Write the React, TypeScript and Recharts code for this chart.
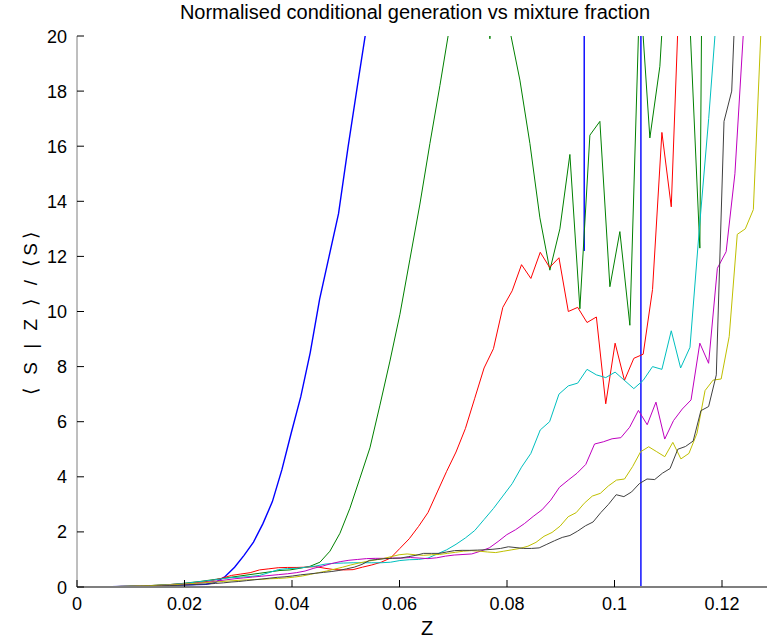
import React from 'react';
import { LineChart, Line, XAxis, YAxis, Label } from 'recharts';

const FONT = '"Liberation Sans", Arial, Helvetica, sans-serif';
const CHART_W = 767;
const CHART_H = 643;
const MARGIN = { top: 36, right: 0, bottom: 26, left: 17 };
const Y_AXIS_W = 60;
const X_AXIS_H = 30;
const TICK_LEN = 7;

const title = 'Normalised conditional generation vs mixture fraction';
const xLabel = 'Z';
const yLabel = '\u27E8 S | Z \u27E9 / \u27E8S\u27E9';

const xTicks = [0, 0.02, 0.04, 0.06, 0.08, 0.1, 0.12];
const xTickLabels = ['0', '0.02', '0.04', '0.06', '0.08', '0.1', '0.12'];
const yTicks = [0, 2, 4, 6, 8, 10, 12, 14, 16, 18, 20];
const yTickLabels = ['0', '2', '4', '6', '8', '10', '12', '14', '16', '18', '20'];
const xDomain = [0, 0.12837];
const yDomain = [0, 20];

// Each series was binned on its own uniform mixture-fraction grid: [first bin Z, bin width]
const blueGrid = [0.00119, 0.001758];
const greenGrid = [0.000558, 0.00186];
const redGrid = [0.000874, 0.001741];
const cyanGrid = [0.000874, 0.001741];
const magentaGrid = [0, 0.001632];
const yellowGrid = [0, 0.001498];
const blackGrid = [0, 0.001433];

const blueS = [
  0, 0, 0.01, 0.01, 0.02, 0.02, 0.03, 0.04, 0.05, 0.06,
  0.07, 0.08, 0.09, 0.1, 0.17, 0.38, 0.72, 1.15, 1.63, 2.3,
  3.1, 4.25, 5.6, 6.9, 8.5, 10.45, 12.0, 13.55, 15.95, 18.2,
  20.4, 24, 30, 40, 60, 90, 150, 250, 400, 700,
  1e5, 1e5, 1e5, 1e5, 1e5, 1e5, 1e5, 1e5, 1e5, 1e5,
  1e5, 1e5, 1e5, 12.2, 1e5, 1e5, 1e5, 1e5, 1e5, 0,
  1e5, 1e5, 1e5, 1e5, 1e5, 1e5, 1e5, 1e5, 1e5, 1e5,
  1e5, 1e5, 1e5, 1e5,
];

const greenS = [
  0, 0, 0.01, 0.01, 0.02, 0.03, 0.04, 0.05, 0.07, 0.09,
  0.12, 0.16, 0.2, 0.25, 0.3, 0.35, 0.4, 0.45, 0.5, 0.55,
  0.6, 0.62, 0.68, 0.75, 0.9, 1.3, 1.95, 2.86, 3.95, 5.05,
  6.6, 8.2, 9.9, 11.9, 13.9, 16.1, 18.2, 20.4, 23, 26,
  28, 19.9, 30, 20.2, 18.4, 16.1, 13.4, 11.5, 13.0, 15.7,
  10.1, 16.4, 16.9, 10.9, 12.9, 9.5, 21.8, 16.3, 18.9, 25,
  40, 20.5, 12.3, 60, 80, 100, 120, 150, 200, 250,
];

const redS = [
  0, 0, 0.01, 0.01, 0.02, 0.03, 0.04, 0.05, 0.06, 0.08,
  0.1, 0.12, 0.15, 0.18, 0.24, 0.32, 0.42, 0.47, 0.52, 0.62,
  0.66, 0.7, 0.71, 0.71, 0.72, 0.74, 0.68, 0.63, 0.62, 0.63,
  0.72, 0.8, 0.9, 1.05, 1.4, 1.75, 2.2, 2.7, 3.45, 4.2,
  4.9, 5.75, 6.85, 7.95, 8.65, 10.15, 10.75, 11.7, 11.2, 12.15,
  11.6, 11.95, 10.0, 10.15, 9.6, 9.8, 6.65, 8.85, 7.5, 8.3,
  8.45, 10.8, 16.5, 13.8, 23, 60, 100, 150, 200, 300,
  400, 500, 600, 700,
];

const cyanS = [
  0, 0, 0.01, 0.01, 0.02, 0.03, 0.04, 0.05, 0.06, 0.08,
  0.1, 0.13, 0.17, 0.21, 0.25, 0.3, 0.34, 0.36, 0.38, 0.42,
  0.52, 0.63, 0.67, 0.68, 0.72, 0.76, 0.83, 0.86, 0.87, 0.88,
  0.88, 0.88, 0.88, 0.9, 0.96, 0.99, 1.0, 1.05, 1.2, 1.35,
  1.55, 1.78, 2.05, 2.45, 2.85, 3.3, 3.75, 4.35, 4.85, 5.7,
  6.0, 7.0, 7.3, 7.4, 7.9, 7.7, 7.6, 7.8, 7.5, 7.2,
  7.5, 8.0, 7.9, 9.3, 7.95, 8.7, 13.0, 17.0, 21.5, 30,
  40, 50, 60, 70,
];

const magentaS = [
  0, 0, 0, 0.01, 0.01, 0.02, 0.02, 0.03, 0.04, 0.05,
  0.06, 0.08, 0.1, 0.12, 0.15, 0.18, 0.22, 0.26, 0.3, 0.33,
  0.36, 0.39, 0.42, 0.45, 0.48, 0.52, 0.58, 0.68, 0.76, 0.85,
  0.92, 0.97, 1.0, 1.03, 1.04, 1.04, 1.05, 1.05, 1.07, 1.05,
  1.03, 1.06, 1.12, 1.16, 1.18, 1.2, 1.3, 1.42, 1.65, 1.9,
  2.08, 2.3, 2.56, 2.8, 3.15, 3.62, 3.88, 4.13, 4.45, 5.19,
  5.27, 5.38, 5.42, 5.8, 6.41, 5.89, 6.71, 5.37, 6.04, 6.46,
  6.79, 8.85, 8.12, 11.57, 12.17, 15.0, 20.3, 30, 40, 50,
];

const yellowS = [
  0, 0, 0, 0.01, 0.01, 0.02, 0.02, 0.03, 0.04, 0.05,
  0.06, 0.07, 0.08, 0.1, 0.12, 0.14, 0.16, 0.18, 0.2, 0.22,
  0.24, 0.26, 0.27, 0.28, 0.3, 0.31, 0.33, 0.36, 0.4, 0.46,
  0.52, 0.58, 0.65, 0.72, 0.8, 0.87, 0.93, 0.98, 1.03, 1.1,
  1.17, 1.2, 1.17, 1.15, 1.17, 1.18, 1.22, 1.26, 1.3, 1.32,
  1.3, 1.27, 1.25, 1.3, 1.35, 1.4, 1.48, 1.62, 1.84, 1.98,
  2.21, 2.55, 2.7, 3.04, 3.3, 3.4, 3.67, 3.88, 3.92, 4.37,
  4.91, 5.09, 4.91, 4.73, 5.25, 4.65, 4.85, 5.58, 7.13, 7.51,
  7.55, 9.09, 12.8, 13.0, 13.7, 20.6, 30,
];

const blackS = [
  0, 0, 0, 0, 0.01, 0.01, 0.01, 0.02, 0.02, 0.03,
  0.03, 0.04, 0.05, 0.06, 0.07, 0.08, 0.1, 0.11, 0.13, 0.15,
  0.18, 0.2, 0.23, 0.26, 0.29, 0.32, 0.35, 0.37, 0.4, 0.44,
  0.47, 0.5, 0.53, 0.56, 0.6, 0.66, 0.72, 0.82, 0.97, 1.0,
  1.03, 1.04, 1.05, 1.1, 1.15, 1.22, 1.22, 1.22, 1.27, 1.32,
  1.33, 1.33, 1.34, 1.35, 1.37, 1.4, 1.46, 1.43, 1.4, 1.4,
  1.42, 1.55, 1.68, 1.8, 1.87, 2.03, 2.22, 2.36, 2.7, 3.0,
  3.35, 3.28, 3.45, 3.75, 3.92, 3.9, 4.13, 4.3, 5.0, 5.1,
  5.3, 6.4, 6.55, 7.7, 16.9, 18.0, 25, 40, 60, 80,
  100,
];

const seriesList = [
  { name: 'blue', grid: blueGrid, values: blueS, color: '#0000ff', width: 1.4 },
  { name: 'green', grid: greenGrid, values: greenS, color: '#008000', width: 1 },
  { name: 'red', grid: redGrid, values: redS, color: '#ff0000', width: 1 },
  { name: 'cyan', grid: cyanGrid, values: cyanS, color: '#00bfbf', width: 1 },
  { name: 'magenta', grid: magentaGrid, values: magentaS, color: '#bf00bf', width: 1 },
  { name: 'yellow', grid: yellowGrid, values: yellowS, color: '#bfbf00', width: 1 },
  { name: 'black', grid: blackGrid, values: blackS, color: '#404040', width: 1 },
];

const toRows = (grid: number[], values: number[]) =>
  values.map((s, k) => ({ z: grid[0] + k * grid[1], s }));

const XTick = (props: any) => {
  const { x, y, index } = props;
  return (
    <g>
      <line x1={x} x2={x} y1={y} y2={y - TICK_LEN} stroke="#000" strokeWidth={1} />
      <text x={x} y={y + 23} textAnchor="middle" fontFamily={FONT} fontSize={18} fill="#000">
        {xTickLabels[index]}
      </text>
    </g>
  );
};

const YTick = (props: any) => {
  const { x, y, index } = props;
  return (
    <g>
      <line x1={x} x2={x + TICK_LEN} y1={y} y2={y} stroke="#000" strokeWidth={1} />
      <text x={x - 10} y={y + 6.5} textAnchor="end" fontFamily={FONT} fontSize={18} fill="#000">
        {yTickLabels[index]}
      </text>
    </g>
  );
};

export default function App() {
  return (
    <div style={{ position: 'absolute', left: 0, top: 0, width: CHART_W, height: CHART_H, background: '#fff' }}>
      <div
        style={{
          position: 'absolute',
          left: 60,
          width: 710,
          top: 1,
          textAlign: 'center',
          fontFamily: FONT,
          fontSize: 20,
          color: '#000',
          lineHeight: '22px',
        }}
      >
        {title}
      </div>
      <LineChart width={CHART_W} height={CHART_H} margin={MARGIN}>
        <XAxis
          type="number"
          dataKey="z"
          domain={xDomain}
          allowDataOverflow
          ticks={xTicks}
          interval={0}
          tickSize={0}
          tickMargin={0}
          tick={<XTick />}
          height={X_AXIS_H}
          axisLine={{ stroke: '#7f7f7f', strokeWidth: 2 }}
          tickLine={false}
        >
          <Label
            value={xLabel}
            position="bottom"
            offset={4}
            dx={5}
            style={{ fontFamily: FONT, fontSize: 20, fill: '#000' }}
          />
        </XAxis>
        <YAxis
          type="number"
          dataKey="s"
          domain={yDomain}
          allowDataOverflow
          ticks={yTicks}
          interval={0}
          tickSize={0}
          tickMargin={0}
          tick={<YTick />}
          width={Y_AXIS_W}
          axisLine={{ stroke: '#7f7f7f', strokeWidth: 1 }}
          tickLine={false}
        >
          <Label
            value={yLabel}
            angle={-90}
            position="insideLeft"
            offset={13}
            style={{ fontFamily: FONT, fontSize: 19, fill: '#000', textAnchor: 'middle', letterSpacing: 4 }}
          />
        </YAxis>
        {seriesList.map((ser) => (
          <Line
            key={ser.name}
            data={toRows(ser.grid, ser.values)}
            dataKey="s"
            type="linear"
            stroke={ser.color}
            strokeWidth={ser.width}
            dot={false}
            activeDot={false}
            isAnimationActive={false}
          />
        ))}
      </LineChart>
    </div>
  );
}
